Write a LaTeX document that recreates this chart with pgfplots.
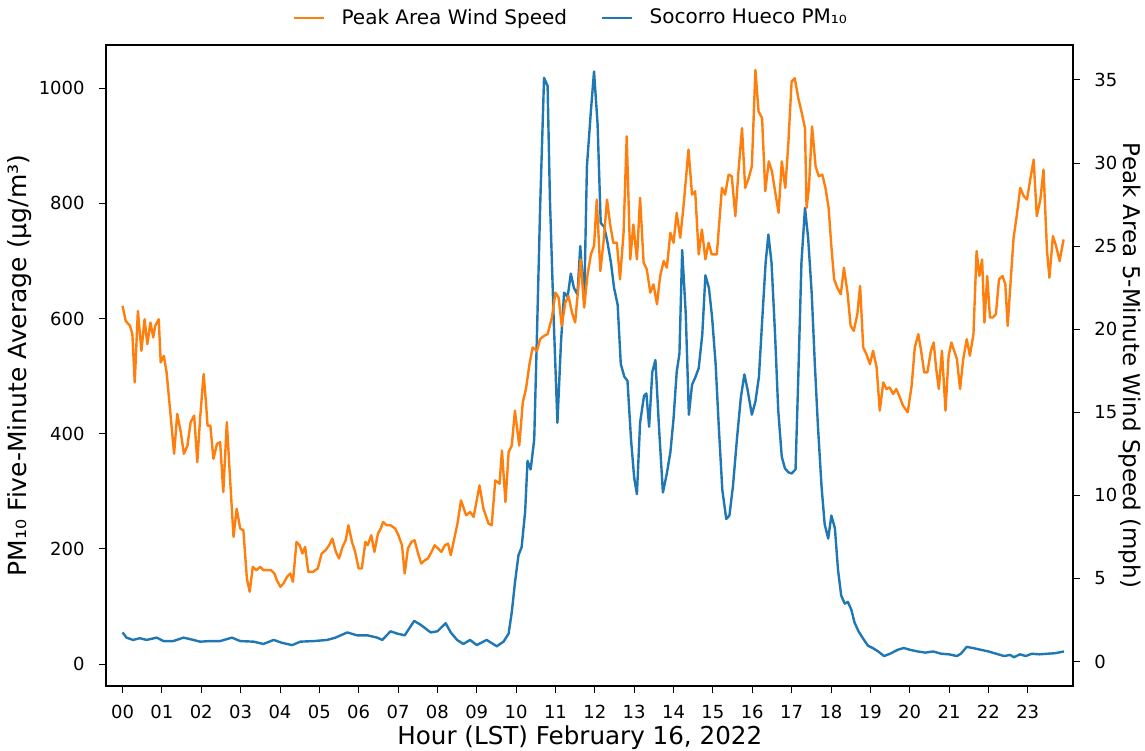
\documentclass[border=0pt]{standalone}
\usepackage{fontspec}
\setmainfont{DejaVu Sans}
\usepackage{pgfplots}
\pgfplotsset{compat=1.18}
\definecolor{tabblue}{HTML}{1F77B4}
\definecolor{taborange}{HTML}{FF7F0E}

\begin{document}
\begin{tikzpicture}[font=\fontsize{9}{10.5}\selectfont]
\path[use as bounding box] (-53pt,-32pt) rectangle (519.5pt,343pt);
\pgfplotsset{
  twin/.style={
    scale only axis, width=483.5pt, height=320.5pt,
    xmin=-0.42, xmax=24.15,
    tick align=outside, major tick length=3.5pt,
    every tick/.style={black, line width=0.45pt},
    axis line style={line width=0.6pt},
    /pgf/number format/assume math mode=true,
    /pgf/number format/1000 sep={},
    tick label style={font=\fontsize{9}{10.5}\selectfont},
  },
}
% PM10 concentration, left axis
\begin{axis}[twin,
  ymin=-38, ymax=1075,
  ytick={0,200,400,600,800,1000},
  xtick={0,1,...,23},
  xticklabels={00,01,02,03,04,05,06,07,08,09,10,11,12,13,14,15,16,17,18,19,20,21,22,23},
  xtick pos=left, ytick pos=left,
  yticklabel style={inner sep=0pt, anchor=east, xshift=-7pt},
  xticklabel style={inner sep=0pt, anchor=north, yshift=-6pt},
  xlabel={Hour (LST) February 16, 2022},
  ylabel={PM₁₀ Five-Minute Average (μg/m³)},
  xlabel style={at={(axis description cs:0.49,-0.08)}, anchor=center, font=\fontsize{12.3}{14}\selectfont},
  ylabel style={at={(axis description cs:-0.089,0.5)}, anchor=center, font=\fontsize{12.5}{14}\selectfont},
]
\addplot[tabblue, line width=1.2pt, line join=round] coordinates {
(0.00,55) (0.10,46) (0.27,42) (0.44,45) (0.61,42) (0.87,46) (1.04,40) (1.29,40)
(1.55,46) (1.80,42) (1.97,39) (2.23,40) (2.48,40) (2.78,46) (2.99,40) (3.33,39)
(3.58,35) (3.84,42) (4.05,37) (4.31,33) (4.52,39) (4.86,40) (5.20,42) (5.41,46)
(5.71,55) (5.96,50) (6.22,50) (6.47,46) (6.60,42) (6.81,57) (6.98,53) (7.17,50)
(7.41,75) (7.58,68) (7.83,55) (8.00,57) (8.21,71) (8.34,55) (8.50,42) (8.66,35)
(8.83,42) (9.00,33) (9.25,42) (9.51,31) (9.68,39) (9.81,53) (9.89,90) (9.97,141)
(10.06,189) (10.14,203) (10.23,265) (10.29,353) (10.37,338) (10.46,390) (10.53,572)
(10.61,792) (10.71,1018) (10.80,1004) (10.86,806) (10.95,609) (11.05,419) (11.14,558)
(11.22,645) (11.31,638) (11.39,678) (11.47,653) (11.56,642) (11.63,726) (11.73,627)
(11.80,865) (11.90,960) (11.98,1029) (12.07,938) (12.15,766) (12.24,759) (12.32,733)
(12.41,697) (12.49,653) (12.58,624) (12.66,521) (12.75,499) (12.83,492) (12.92,390)
(13.00,324) (13.07,295) (13.15,419) (13.25,466) (13.31,470) (13.38,412) (13.46,507)
(13.54,528) (13.63,412) (13.73,298) (13.83,331) (13.92,368) (14.00,426) (14.08,507)
(14.15,539) (14.22,719) (14.31,609) (14.39,433) (14.47,485) (14.56,499) (14.64,514)
(14.73,572) (14.81,675) (14.90,653) (14.98,602) (15.07,521) (15.15,412) (15.24,302)
(15.34,252) (15.42,258) (15.51,309) (15.61,390) (15.71,463) (15.80,503) (15.88,477)
(15.99,433) (16.08,456) (16.17,499) (16.25,594) (16.34,697) (16.41,746) (16.49,697)
(16.58,572) (16.66,441) (16.75,360) (16.83,340) (16.92,333) (17.00,331) (17.10,338)
(17.17,499) (17.25,697) (17.34,792) (17.42,740) (17.51,645) (17.59,521) (17.67,412)
(17.76,309) (17.84,243) (17.93,218) (18.01,258) (18.10,236) (18.18,163) (18.26,119)
(18.35,105) (18.43,108) (18.52,94) (18.60,72) (18.70,57) (18.81,45) (18.94,32)
(19.06,28) (19.20,22) (19.35,14) (19.50,18) (19.70,25) (19.85,28) (20.00,25)
(20.20,22) (20.40,20) (20.60,22) (20.80,18) (21.00,17) (21.20,14) (21.30,18)
(21.45,30) (21.60,28) (21.80,25) (22.00,22) (22.20,18) (22.40,14) (22.55,16)
(22.65,12) (22.80,17) (22.95,14) (23.10,18) (23.30,17) (23.50,18) (23.70,19) (23.92,22)
};
\end{axis}
% peak wind speed, right axis
\begin{axis}[twin,
  axis y line*=right, axis x line=none,
  ymin=-1.47, ymax=37.1,
  ytick={0,5,...,35},
  yticklabel style={inner sep=0pt, anchor=west, xshift=7pt},
  ylabel={Peak Area 5-Minute Wind Speed (mph)},
  ylabel style={at={(axis description cs:1.059,0.5)}, anchor=center, rotate=180, font=\fontsize{11.5}{13}\selectfont},
  legend style={at={(axis description cs:0.482,1.042)}, anchor=center,
    draw=none, fill=none, font=\fontsize{10}{12}\selectfont,
    legend columns=2,
    /tikz/every odd column/.append style={column sep=6pt},
    /tikz/every even column/.append style={column sep=15pt}},
  legend image code/.code={\draw[#1] (0pt,0pt) -- (15pt,0pt);},
]
\addplot[taborange, line width=1.2pt, line join=round] coordinates {
(0.00,21.4) (0.08,20.5) (0.19,20.2) (0.25,19.7) (0.31,16.8) (0.39,21.1) (0.48,18.7)
(0.56,20.6) (0.63,19.1) (0.71,20.4) (0.78,19.5) (0.83,20.2) (0.92,20.6) (0.97,18.0)
(1.05,18.4) (1.12,17.4) (1.21,15.1) (1.31,12.5) (1.39,14.9) (1.48,13.8) (1.56,12.5)
(1.65,13.0) (1.73,14.4) (1.82,14.8) (1.90,12.0) (1.97,14.6) (2.06,17.3) (2.12,15.6)
(2.16,14.2) (2.23,14.2) (2.31,12.2) (2.40,13.1) (2.48,13.2) (2.56,10.2) (2.65,14.4)
(2.73,11.1) (2.82,7.5) (2.90,9.2) (2.99,8.0) (3.07,7.9) (3.16,5.0) (3.23,4.2)
(3.31,5.7) (3.40,5.5) (3.50,5.7) (3.58,5.5) (3.67,5.5) (3.77,5.5) (3.86,5.3)
(3.92,4.9) (4.01,4.5) (4.09,4.7) (4.18,5.1) (4.26,5.3) (4.33,4.8) (4.42,7.2)
(4.50,7.0) (4.57,6.5) (4.64,6.9) (4.72,5.4) (4.84,5.4) (4.96,5.6) (5.06,6.5)
(5.16,6.7) (5.25,7.0) (5.33,7.4) (5.42,6.6) (5.50,6.2) (5.59,6.9) (5.67,7.3)
(5.74,8.2) (5.83,7.2) (5.91,6.6) (6.00,5.6) (6.08,5.6) (6.17,7.2) (6.23,7.0)
(6.32,7.6) (6.40,6.6) (6.49,7.7) (6.56,8.0) (6.62,8.4) (6.71,8.2) (6.81,8.2)
(6.93,8.0) (7.01,7.6) (7.10,7.0) (7.17,5.3) (7.25,6.8) (7.34,7.2) (7.42,7.3)
(7.51,6.5) (7.59,5.9) (7.68,6.1) (7.76,6.2) (7.85,6.6) (7.93,7.0) (8.02,6.8)
(8.10,6.6) (8.19,7.0) (8.27,7.1) (8.34,6.4) (8.42,7.3) (8.51,8.3) (8.60,9.7)
(8.73,8.8) (8.83,9.0) (8.92,8.7) (9.07,10.6) (9.17,9.2) (9.30,8.3) (9.38,8.2)
(9.47,10.9) (9.58,10.7) (9.64,12.7) (9.73,9.6) (9.81,12.6) (9.89,13.0) (9.97,15.1)
(10.08,13.0) (10.17,15.6) (10.25,16.4) (10.34,17.9) (10.42,18.9) (10.53,18.7)
(10.61,19.4) (10.71,19.6) (10.80,19.7) (10.91,20.7) (11.00,22.2) (11.08,21.9)
(11.16,20.2) (11.25,21.6) (11.33,22.0) (11.42,21.0) (11.50,20.4) (11.58,22.5)
(11.64,24.2) (11.73,21.3) (11.81,23.2) (11.90,24.5) (11.98,25.0) (12.05,27.8)
(12.14,23.5) (12.22,25.2) (12.31,27.8) (12.39,26.3) (12.47,25.2) (12.56,25.2)
(12.64,23.0) (12.73,25.8) (12.81,31.6) (12.90,24.2) (12.98,26.3) (13.07,24.2)
(13.15,27.9) (13.24,24.0) (13.32,23.6) (13.41,22.2) (13.49,22.7) (13.58,21.5)
(13.66,23.2) (13.75,24.1) (13.83,23.7) (13.92,25.8) (14.00,25.2) (14.08,27.0)
(14.17,25.5) (14.25,27.3) (14.38,30.8) (14.47,28.1) (14.55,28.3) (14.64,24.5)
(14.72,26.0) (14.81,24.2) (14.89,25.2) (14.97,24.5) (15.10,24.5) (15.23,28.5)
(15.31,28.1) (15.40,29.3) (15.48,29.2) (15.57,26.8) (15.65,29.5) (15.74,32.1)
(15.82,28.5) (15.91,29.1) (15.99,29.8) (16.08,35.6) (16.16,33.1) (16.25,32.7)
(16.33,28.3) (16.42,30.1) (16.50,29.5) (16.58,28.3) (16.67,27.0) (16.75,30.1)
(16.84,28.5) (16.92,31.3) (17.00,34.9) (17.08,35.1) (17.17,33.9) (17.25,33.1)
(17.34,32.1) (17.38,27.3) (17.44,28.5) (17.52,32.2) (17.61,29.8) (17.69,29.2)
(17.78,29.3) (17.86,28.5) (17.94,27.3) (18.01,25.0) (18.08,23.0) (18.16,22.5)
(18.25,22.1) (18.33,23.7) (18.42,22.2) (18.50,20.2) (18.58,19.9) (18.67,20.9)
(18.74,22.6) (18.82,18.9) (18.90,18.5) (18.99,17.9) (19.07,18.7) (19.16,17.7)
(19.24,15.1) (19.33,16.8) (19.41,16.4) (19.49,16.5) (19.58,16.1) (19.66,16.4)
(19.75,15.9) (19.83,15.4) (19.95,15.0) (20.05,16.6) (20.13,18.9) (20.22,19.7)
(20.29,18.7) (20.37,17.4) (20.45,17.4) (20.54,18.7) (20.61,19.2) (20.67,17.7)
(20.74,16.4) (20.82,18.7) (20.91,15.1) (20.99,18.4) (21.06,19.2) (21.13,18.7)
(21.20,18.2) (21.28,16.4) (21.36,18.2) (21.45,19.4) (21.53,18.4) (21.62,19.7)
(21.70,24.7) (21.77,23.2) (21.84,24.2) (21.90,20.4) (21.97,23.2) (22.04,20.7)
(22.11,20.7) (22.19,20.9) (22.27,23.0) (22.36,23.2) (22.43,22.7) (22.49,20.2)
(22.56,22.7) (22.64,25.5) (22.73,27.0) (22.81,28.5) (22.90,28.0) (22.98,27.8)
(23.07,29.1) (23.15,30.2) (23.23,26.8) (23.32,27.8) (23.40,29.6) (23.49,24.7)
(23.55,23.1) (23.64,25.6) (23.72,25.0) (23.81,24.1) (23.91,25.4)
};
\addlegendentry{Peak Area Wind Speed}
\addlegendimage{tabblue, line width=1.2pt}
\addlegendentry{Socorro Hueco PM₁₀}
\end{axis}
\end{tikzpicture}
\end{document}
